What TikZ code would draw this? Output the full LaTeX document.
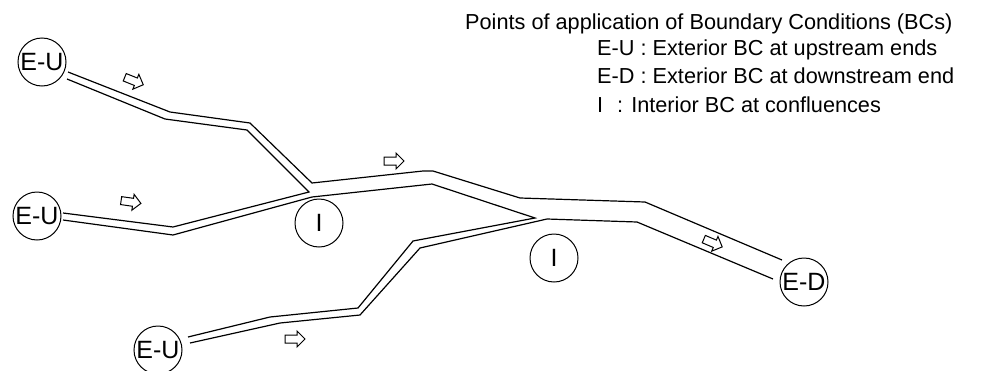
\documentclass[tikz,border=0pt]{standalone}
\usepackage{fontspec}
\setmainfont{Liberation Sans}
\tikzset{
  flowarrow/.pic={\draw[line width=1pt, line join=miter] (-10,-4) -- (2,-4) -- (2,-8) -- (10,0) -- (2,8) -- (2,4) -- (-10,4) -- cycle;}
}
\begin{document}
\begin{tikzpicture}[x=1pt,y=-1pt,
  chan/.style={line width=1.2pt, line join=miter},
  bc/.style={draw, circle, line width=1pt, minimum size=48pt, inner sep=0pt, font=\fontsize{25}{25}\selectfont},
  legend/.style={anchor=base west, inner sep=0pt, font=\fontsize{21.7}{26}\selectfont}
]
\useasboundingbox (0,0) rectangle (991,370);

% boundary condition circles
\node[bc] (eu1) at (42,62) {E-U};
\node[bc] (eu2) at (37,216) {E-U};
\node[bc] (eu3) at (158,350) {E-U};
\node[bc] (ed) at (804,282) {E-D};
\node[bc] (i1) at (319,223) {I};
\node[bc] (i2) at (554,258) {I};

% channel banks
\draw[chan] (68,72) -- (170,112) -- (250,123) -- (312,183) -- (423,171) -- (433,171) -- (520,198) -- (645,202) -- (782,260);
\draw[chan] (67,79) -- (165,119) -- (247,130) -- (309,192) -- (173,227) -- (63,213);
\draw[chan] (63,220) -- (173,235) -- (312,197) -- (432,184) -- (535,218) -- (413,241) -- (358,308) -- (270,317) -- (188,337);
\draw[chan] (190,343) -- (280,323) -- (360,315) -- (420,248) -- (547,219) -- (637,222) -- (773,279);

% flow arrows
\pic[rotate=-22] at (134,81) {flowarrow};
\pic[rotate=-8] at (131,202) {flowarrow};
\pic at (394,161) {flowarrow};
\pic[rotate=-23] at (713,243) {flowarrow};
\pic at (295,339) {flowarrow};

% legend
\node[legend] (title) at (465,29) {Points of application of Boundary Conditions (BCs)};
\node[legend] (leu) at (597,55) {E-U : Exterior BC at upstream ends};
\node[legend] (led) at (597,83) {E-D : Exterior BC at downstream end};
\node[legend] (li) at (597,112) {I};
\node[legend] (lic) at (617,112) {: Interior BC at confluences};
\end{tikzpicture}
\end{document}
